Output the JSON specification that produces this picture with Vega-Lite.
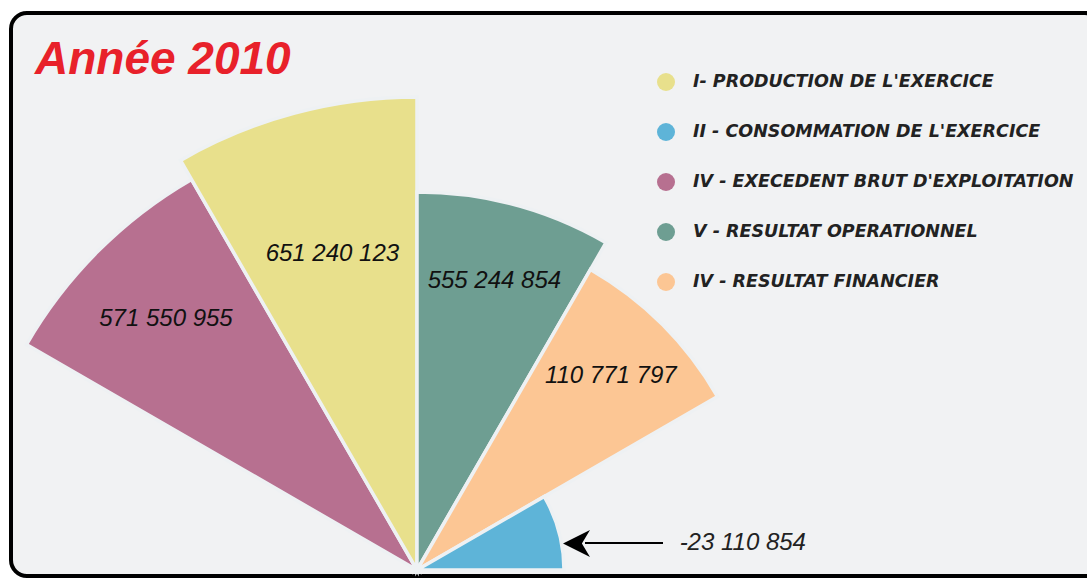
{
  "$schema": "https://vega.github.io/schema/vega-lite/v6.json",
  "width": 1090,
  "height": 563,
  "autosize": {"type": "none"},
  "padding": {"left": 11, "top": 13, "right": -14, "bottom": 3},
  "background": "white",
  "view": {"fill": "#f1f2f3", "stroke": "#000000", "strokeWidth": 4, "cornerRadius": 16},
  "title": {
    "text": "Année 2010",
    "anchor": "start",
    "frame": "group",
    "orient": "top",
    "font": "Liberation Sans",
    "fontSize": 46,
    "fontStyle": "italic",
    "fontWeight": "bold",
    "color": "#e8212a",
    "offset": -107,
    "baseline": "alphabetic",
    "dx": 24
  },
  "config": {
    "locale": {"number": {"decimal": ",", "thousands": " ", "grouping": [3], "currency": ["", " DA"], "minus": "-"}}
  },
  "data": {
    "values": [
      {"poste": "IV - EXECEDENT BRUT D'EXPLOITATION", "valeur": 571550955, "ordre": 1},
      {"poste": "I- PRODUCTION DE L'EXERCICE", "valeur": 651240123, "ordre": 2},
      {"poste": "V - RESULTAT OPERATIONNEL", "valeur": 555244854, "ordre": 3},
      {"poste": "IV - RESULTAT FINANCIER", "valeur": 110771797, "ordre": 4},
      {"poste": "II - CONSOMMATION DE L'EXERCICE", "valeur": -23110854, "ordre": 5}
    ]
  },
  "layer": [
    {
      "transform": [
        {"joinaggregate": [{"op": "count", "as": "part"}], "groupby": ["poste"]},
        {"stack": "part", "groupby": [], "sort": [{"field": "ordre", "order": "ascending"}], "as": ["debut", "fin"]}
      ],
      "resolve": {"scale": {"radius": "independent"}},
      "layer": [
        {
          "mark": {"type": "arc", "x": 406, "y": 557, "radius2": 0, "stroke": "#eef1f3", "strokeWidth": 3.5},
          "encoding": {
            "theta": {"field": "fin", "type": "quantitative", "scale": {"range": [-1.0472, 1.5708], "nice": false, "zero": true}},
            "theta2": {"field": "debut"},
            "radius": {
              "field": "valeur",
              "type": "quantitative",
              "scale": {
                "type": "linear",
                "domain": [-23110854, 110771797, 555244854, 571550955, 651240123],
                "range": [147, 347, 378, 451, 473],
                "zero": false,
                "nice": false
              }
            },
            "color": {
              "field": "poste",
              "type": "nominal",
              "sort": ["I- PRODUCTION DE L'EXERCICE", "II - CONSOMMATION DE L'EXERCICE", "IV - EXECEDENT BRUT D'EXPLOITATION", "V - RESULTAT OPERATIONNEL", "IV - RESULTAT FINANCIER"],
              "scale": {
                "domain": ["I- PRODUCTION DE L'EXERCICE", "II - CONSOMMATION DE L'EXERCICE", "IV - EXECEDENT BRUT D'EXPLOITATION", "V - RESULTAT OPERATIONNEL", "IV - RESULTAT FINANCIER"],
                "range": ["#e8e08c", "#5eb4d8", "#b77090", "#6e9e92", "#fcc694"]
              },
              "legend": {
                "title": null,
                "orient": "none",
                "legendX": 646,
                "legendY": 60,
                "symbolType": "circle",
                "symbolSize": 324,
                "symbolStrokeWidth": 0,
                "symbolOpacity": 1,
                "labelFont": "DejaVu Sans",
                "labelFontSize": 17.5,
                "labelFontStyle": "italic",
                "labelFontWeight": "bold",
                "labelColor": "#222222",
                "labelOffset": 18,
                "rowPadding": 32,
                "padding": 0,
                "labelLimit": 600
              }
            }
          }
        },
        {
          "mark": {"type": "text", "x": 406, "y": 557, "thetaOffset": 0.2618, "font": "Liberation Sans", "fontSize": 24, "fontStyle": "italic", "fill": "#111111", "align": "center", "baseline": "middle"},
          "encoding": {
            "theta": {"field": "debut", "type": "quantitative"},
            "radius": {
              "field": "valeur",
              "type": "quantitative",
              "scale": {
                "type": "linear",
                "domain": [-23110854, 110771797, 555244854, 571550955, 651240123],
                "range": [100, 274, 299, 355, 327],
                "zero": false,
                "nice": false
              }
            },
            "text": {"condition": {"test": "datum.valeur < 0", "value": ""}, "field": "valeur", "type": "quantitative", "format": ",d"}
          }
        },
        {
          "mark": {"type": "text", "x": 406, "y": 557, "radius": 264, "thetaOffset": 0.4215, "font": "Liberation Sans", "fontSize": 24, "fontStyle": "italic", "fill": "#222222", "align": "left", "baseline": "middle"},
          "encoding": {
            "theta": {"field": "debut", "type": "quantitative"},
            "text": {"condition": {"test": "datum.valeur >= 0", "value": ""}, "field": "valeur", "type": "quantitative", "format": ",d"}
          }
        }
      ]
    },
    {
      "data": {"values": [{"note": "fleche"}]},
      "mark": {"type": "rule", "stroke": "#000000", "strokeWidth": 2},
      "encoding": {"x": {"value": 574}, "x2": {"value": 652}, "y": {"value": 530}}
    },
    {
      "data": {"values": [{"note": "pointe"}]},
      "mark": {"type": "point", "shape": "M-1,0L1,-1L0.4,0L1,1Z", "x": 565.5, "y": 530.5, "size": 729, "filled": true, "color": "#000000", "opacity": 1, "strokeWidth": 0},
      "encoding": {}
    }
  ]
}
